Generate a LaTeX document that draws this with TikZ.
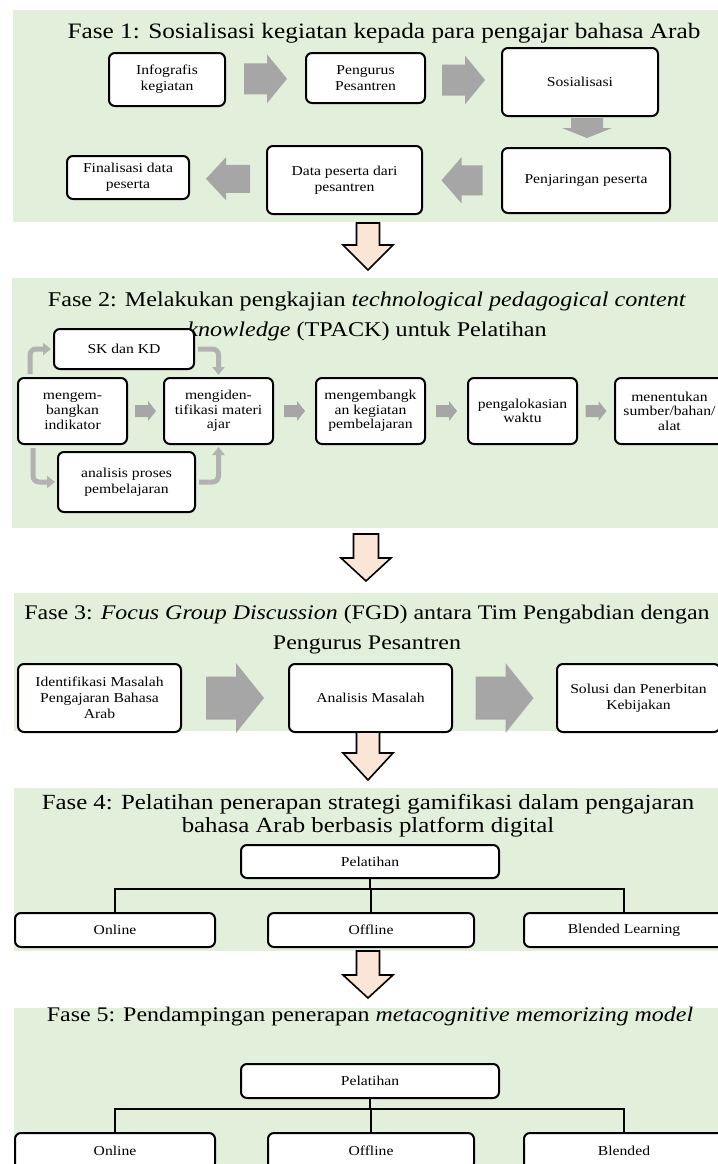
\documentclass[tikz,border=0pt]{standalone}
\usepackage{fontspec}
\setmainfont{Liberation Serif}[FakeStretch=1.15]
\usepackage{xcolor}
\definecolor{phasegreen}{RGB}{226,239,218}
\definecolor{peach}{RGB}{251,229,214}
\definecolor{arrowgray}{RGB}{166,166,166}
\definecolor{bendgray}{RGB}{178,178,178}
\usepackage{tikz}
\usetikzlibrary{calc}
\usetikzlibrary{arrows.meta}
\newcommand{\unitpx}{0.5pt}
\newcommand{\boxfont}{\fontsize{6.8}{8}\selectfont}
\newcommand{\tightfont}{\fontsize{6.8}{7.3}\selectfont}
\newcommand{\titlefont}{\fontsize{11}{15}\selectfont}
\tikzset{
    phasebg/.style={fill=phasegreen},
    phasetitle/.style={align=center, inner sep=0pt, font=\titlefont},
    common/.style={anchor=north west, draw, line width=1pt, rounded corners=3pt, fill=white, align=center, inner sep=1pt, font=\boxfont},
    stepbox/.style 2 args={common, minimum width=#1*\unitpx, minimum height=#2*\unitpx},
    flowarrow/.style={fill=arrowgray},
    downarrow/.style={draw, fill=peach, line width=0.8pt, line join=miter},
    bentarrow/.style={draw=bendgray, line width=2.5pt, rounded corners=3pt, -{Triangle[width=6pt,length=4pt]}, shorten <=1.5pt, shorten >=1pt},
    treeline/.style={draw, line width=0.6pt}
}

\begin{document}
\begin{tikzpicture}[x=\unitpx, y=-\unitpx]

      \newcommand\blockarrow[7]{
        \path[#1, shift={#2}, rotate=#3]
          ({-#4/2},{-#6/2}) -- ({#4/2-#7},{-#6/2}) -- ({#4/2-#7},{-#5/2})
          -- ({#4/2},0) -- ({#4/2-#7},{#5/2}) -- ({#4/2-#7},{#6/2})
          -- ({-#4/2},{#6/2}) -- cycle;
      }

      \useasboundingbox (0,0) rectangle (718,1164);

      \path[phasebg] (13,10) rectangle (718,222);
      \path[phasebg] (12,278) rectangle (718,528);
      \path[phasebg] (14,593) rectangle (718,731);
      \path[phasebg] (14,788) rectangle (718,951);
      \path[phasebg] (14,1008) rectangle (718,1164);

      \node[phasetitle] (title1) at (384,33) {Fase 1: Sosialisasi kegiatan kepada para pengajar bahasa Arab};

      \node[stepbox={116}{53}] (infografis) at (108,52) {Infografis\\kegiatan};
      \node[stepbox={119}{50}] (pengurus) at (305,52) {Pengurus\\Pesantren};
      \node[stepbox={156}{68}] (sosialisasi) at (501,47) {Sosialisasi};
      \node[stepbox={168}{65}] (penjaringan) at (501,147) {Penjaringan peserta};
      \node[stepbox={155}{68}] (datapeserta) at (266,145) {Data peserta dari\\pesantren};
      \node[stepbox={122}{43}] (finalisasi) at (66,155) {Finalisasi data\\peserta};

      \blockarrow{flowarrow}{($(infografis.east)!.5!(pengurus.west)$)}{0}{43}{49}{31}{20}
      \blockarrow{flowarrow}{($(pengurus.east)!.5!(sosialisasi.west)$)}{0}{43}{49}{31}{20}
      \blockarrow{flowarrow}{($(sosialisasi.south)!.5!(penjaringan.north)+(4,-4)$)}{-90}{20}{50}{32}{10}
      \blockarrow{flowarrow}{($(penjaringan.west)!.5!(datapeserta.east)$)}{180}{41}{46}{30}{20}
      \blockarrow{flowarrow}{($(datapeserta.west)!.5!(finalisasi.east)$)}{180}{44}{43}{28}{20}

      \blockarrow{downarrow}{(368,246.5)}{-90}{47}{50}{23}{25}

      \node[phasetitle, font=\fontsize{10.5}{15}\selectfont] (title2) at (367,316) {Fase 2: Melakukan pengkajian \textit{technological pedagogical content}\\\textit{knowledge} (TPACK) untuk Pelatihan};

      \node[stepbox={140}{40}] (skkd) at (53,328) {SK dan KD};
      \node[stepbox={109}{66}, font=\tightfont] (indikator) at (17,377) {mengem-\\bangkan\\indikator};
      \node[stepbox={109}{66}, font=\tightfont] (materi) at (163,377) {mengiden-\\tifikasi materi\\ajar};
      \node[stepbox={109}{66}, font=\tightfont] (kegiatan) at (315,377) {mengembangk\\an kegiatan\\pembelajaran};
      \node[stepbox={109}{66}, font=\tightfont] (waktu) at (467,377) {pengalokasian\\waktu};
      \node[stepbox={109}{66}, font=\tightfont] (alat) at (614,377) {menentukan\\sumber/bahan/\\alat};
      \node[stepbox={137}{60}] (proses) at (57,451) {analisis proses\\pembelajaran};

      \blockarrow{flowarrow}{($(indikator.east)!.5!(materi.west)$)}{0}{21}{20}{12}{8}
      \blockarrow{flowarrow}{($(materi.east)!.5!(kegiatan.west)$)}{0}{21}{20}{12}{8}
      \blockarrow{flowarrow}{($(kegiatan.east)!.5!(waktu.west)$)}{0}{21}{20}{12}{8}
      \blockarrow{flowarrow}{($(waktu.east)!.5!(alat.west)$)}{0}{21}{20}{12}{8}

      \draw[bentarrow] ($(indikator.north west)+(13,0)$) |- (skkd.west);
      \draw[bentarrow] (skkd.east) -| (materi.north);
      \draw[bentarrow] ($(indikator.south west)+(16,0)$) |- (proses.west);
      \draw[bentarrow] (proses.east) -| (materi.south);

      \blockarrow{downarrow}{(366,557.5)}{-90}{47}{50}{25}{23}

      \node[phasetitle, font=\fontsize{10.4}{15}\selectfont] (title3) at (367,630) {Fase 3: \textit{Focus Group Discussion} (FGD) antara Tim Pengabdian dengan\\Pengurus Pesantren};

      \node[stepbox={163}{68}] (masalah) at (17,663) {Identifikasi Masalah\\Pengajaran Bahasa\\Arab};
      \node[stepbox={163}{68}] (analisis) at (288,663) {Analisis Masalah};
      \node[stepbox={163}{68}] (solusi) at (556,663) {Solusi dan Penerbitan\\Kebijakan};

      \blockarrow{flowarrow}{($(masalah.east)!.5!(analisis.west)$)}{0}{58}{70}{43}{28}
      \blockarrow{flowarrow}{($(analisis.east)!.5!(solusi.west)$)}{0}{58}{70}{43}{28}

      \blockarrow{downarrow}{(368,756)}{-90}{48}{50}{23}{27}

      \node[phasetitle, font=\fontsize{10.8}{11.5}\selectfont] (title4) at (368,816) {Fase 4: Pelatihan penerapan strategi gamifikasi dalam pengajaran\\bahasa Arab berbasis platform digital};

      \node[stepbox={258}{33}] (pelatihanA) at (240,844) {Pelatihan};
      \node[stepbox={200}{34}] (onlineA) at (14,912) {Online};
      \node[stepbox={206}{34}] (offlineA) at (267,912) {Offline};
      \node[stepbox={200}{34}] (blendedA) at (523,912) {Blended Learning};

      \foreach \child in {onlineA, offlineA, blendedA}
        \draw[treeline] (pelatihanA.south) -- ++(0,10) -| (\child.north);

      \blockarrow{downarrow}{(368,974.5)}{-90}{47}{50}{23}{23}

      \node[phasetitle, font=\fontsize{10.4}{15}\selectfont] (title5) at (370,1017) {Fase 5: Pendampingan penerapan \textit{metacognitive memorizing model}};

      \node[stepbox={258}{34}] (pelatihanB) at (240,1063) {Pelatihan};
      \node[stepbox={200}{36}] (onlineB) at (14,1132) {Online};
      \node[stepbox={206}{36}] (offlineB) at (267,1132) {Offline};
      \node[stepbox={200}{36}] (blendedB) at (523,1132) {Blended};

      \foreach \child in {onlineB, offlineB, blendedB}
        \draw[treeline] (pelatihanB.south) -- ++(0,10) -| (\child.north);
    \end{tikzpicture}
\end{document}
